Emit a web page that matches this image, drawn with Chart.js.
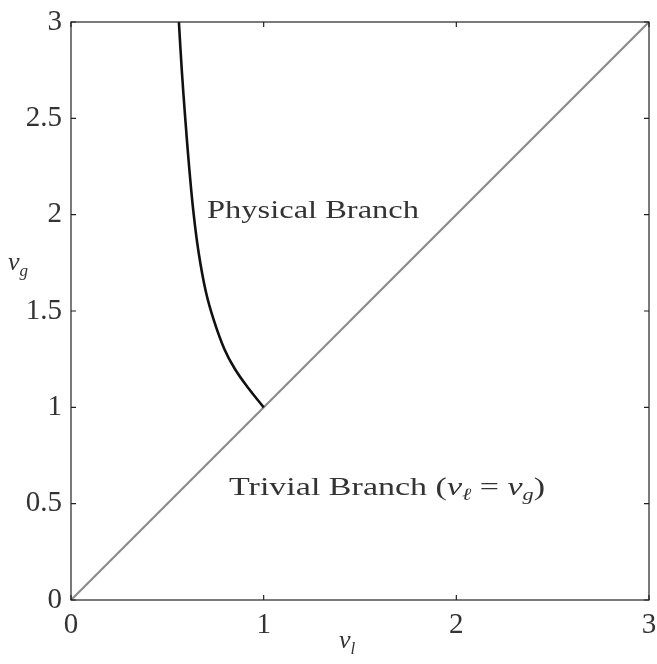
<!DOCTYPE html>
<html>
<head>
<meta charset="utf-8">
<script src="https://cdn.jsdelivr.net/npm/chart.js@4/dist/chart.umd.min.js"></script>
<style>
  html, body { margin: 0; padding: 0; background: #fff; }
  #wrap { width: 657px; height: 664px; }
</style>
</head>
<body>
<div id="wrap"><canvas id="branchChart" width="657" height="664"></canvas></div>
<script>
// physical branch (v_l, v_g)
const physVl = [0.560, 0.575, 0.593, 0.613, 0.637, 0.663, 0.700, 0.742, 0.797, 0.850, 0.920, 1.000];
const physVg = [3.000, 2.750, 2.500, 2.250, 2.000, 1.800, 1.600, 1.450, 1.300, 1.200, 1.100, 1.000];
// trivial branch v_l = v_g
const trivVl = [0, 3];
const trivVg = [0, 3];
const xTicks = [0, 1, 2, 3];
const yTicks = [0, 0.5, 1, 1.5, 2, 2.5, 3];

const serif = '"Liberation Serif", "DejaVu Serif", serif';
const textColor = '#333';

function pts(xs, ys) {
    return xs.map((x, i) => ({ x: x, y: ys[i] }));
}

// draw a run of [text, font, dy] pieces, stretched to a given width
function drawRun(c, parts, x, y, width) {
    let w = 0;
    parts.forEach(p => { c.font = p[1]; w += c.measureText(p[0]).width; });
    const sx = width ? width / w : 1;
    c.save();
    c.translate(x, y);
    c.scale(sx, 1);
    let cx = 0;
    parts.forEach(p => {
        c.font = p[1];
        c.fillText(p[0], cx, p[2]);
        cx += c.measureText(p[0]).width;
    });
    c.restore();
}

const boxPlugin = {
    id: 'boxPlugin',
    afterDraw(chart) {
        const c = chart.ctx;
        const a = chart.chartArea;
        const xs = chart.scales.x, ys = chart.scales.y;
        c.save();
        c.strokeStyle = '#222';
        c.lineWidth = 1.2;
        c.strokeRect(a.left, a.top, a.right - a.left, a.bottom - a.top);
        const tl = 5;
        c.beginPath();
        xTicks.forEach(v => {
            const px = xs.getPixelForValue(v);
            c.moveTo(px, a.bottom); c.lineTo(px, a.bottom - tl);
            c.moveTo(px, a.top); c.lineTo(px, a.top + tl);
        });
        yTicks.forEach(v => {
            const py = ys.getPixelForValue(v);
            c.moveTo(a.left, py); c.lineTo(a.left + tl, py);
            c.moveTo(a.right, py); c.lineTo(a.right - tl, py);
        });
        c.stroke();

        // annotations
        c.fillStyle = textColor;
        c.textBaseline = 'alphabetic';
        c.textAlign = 'left';
        const big = '26px ' + serif, bigIt = 'italic 26px ' + serif, sub = 'italic 17px ' + serif;
        drawRun(c, [['Physical Branch', big, 0]], 207, 218, 212);
        drawRun(c, [
            ['Trivial Branch (', big, 0],
            ['v', bigIt, 0],
            ['\u2113', sub, 5],
            [' = ', big, 0],
            ['v', bigIt, 0],
            ['g', sub, 5],
            [')', big, 0]
        ], 229, 495, 316);

        // axis titles
        drawRun(c, [['v', bigIt, 0], ['l', sub, 6]], 339, 648, 0);
        drawRun(c, [['v', bigIt, 0], ['g', sub, 6]], 8, 270, 0);
        c.restore();
    }
};

const ctx = document.getElementById('branchChart').getContext('2d');
const branchChart = new Chart(ctx, {
    type: 'scatter',
    data: {
        datasets: [{
            label: 'Trivial Branch',
            data: pts(trivVl, trivVg),
            showLine: true,
            borderColor: '#8c8c8c',
            borderWidth: 2.2,
            pointRadius: 0,
            order: 2
        }, {
            label: 'Physical Branch',
            data: pts(physVl, physVg),
            showLine: true,
            borderColor: '#111',
            borderWidth: 2.6,
            pointRadius: 0,
            tension: 0.4,
            order: 1
        }]
    },
    plugins: [boxPlugin],
    options: {
        responsive: false,
        animation: false,
        layout: { padding: { top: 22, right: 0, left: 0, bottom: 0 } },
        plugins: {
            legend: { display: false },
            tooltip: { enabled: false }
        },
        scales: {
            x: {
                type: 'linear',
                min: 0,
                max: 3,
                afterFit(s) { s.height = 64; s.paddingRight = 8; s.paddingLeft = 0; },
                afterBuildTicks(s) { s.ticks = xTicks.map(v => ({ value: v })); },
                grid: { display: false, drawTicks: false },
                border: { display: false },
                ticks: {
                    color: textColor,
                    font: { family: serif, size: 29 },
                    padding: 8,
                    maxRotation: 0,
                    callback: v => String(v)
                }
            },
            y: {
                type: 'linear',
                min: 0,
                max: 3,
                afterFit(s) { s.width = 71; s.paddingTop = 0; s.paddingBottom = 0; },
                afterBuildTicks(s) { s.ticks = yTicks.map(v => ({ value: v })); },
                grid: { display: false, drawTicks: false },
                border: { display: false },
                ticks: {
                    color: textColor,
                    font: { family: serif, size: 29 },
                    padding: 9,
                    callback: v => String(v)
                }
            }
        }
    }
});
</script>
</body>
</html>
